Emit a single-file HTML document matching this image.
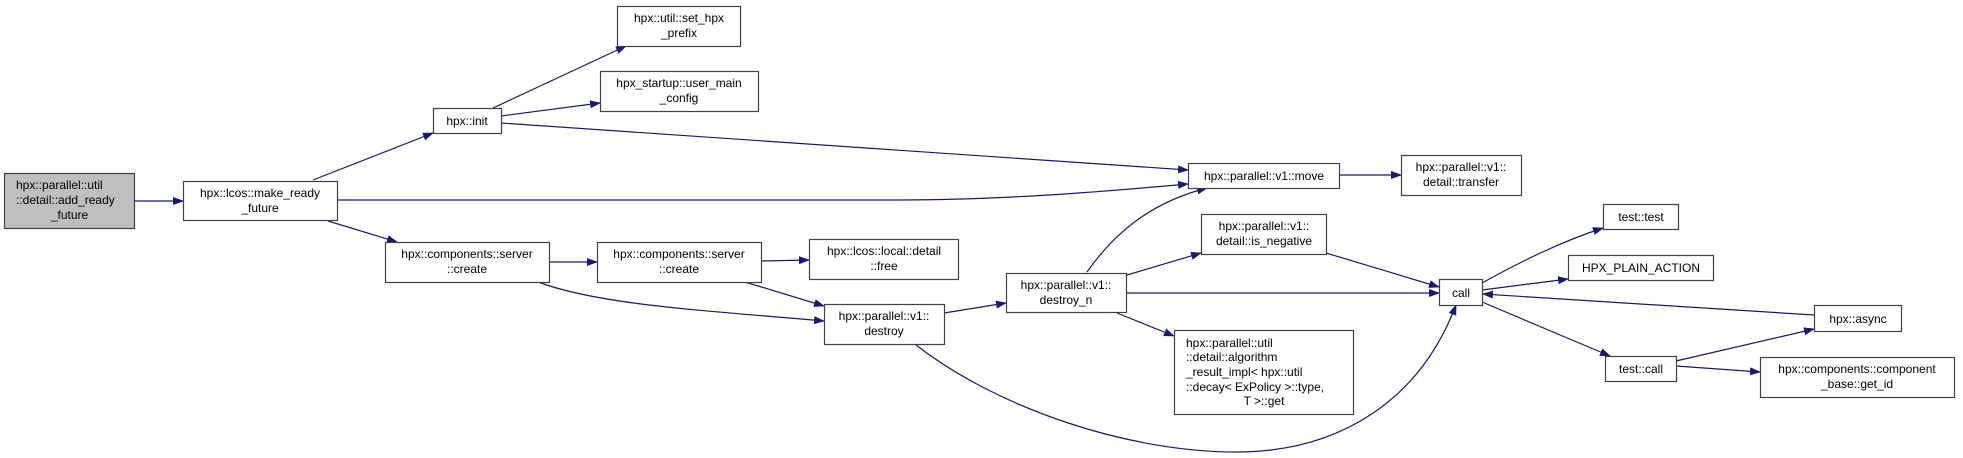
<!DOCTYPE html>
<html><head><meta charset="utf-8"><style>
html,body{margin:0;padding:0;background:#fff;}
svg{display:block;}
text{font-family:"Liberation Sans",sans-serif;font-size:12px;fill:#000;}
.b{fill:#fff;stroke:#404040;stroke-width:1.2;}
.e{fill:none;stroke:#191970;stroke-width:1.2;marker-end:url(#a);}
</style></head><body>
<svg width="1963" height="458" viewBox="0 0 1963 458" xmlns="http://www.w3.org/2000/svg">
<defs><marker id="a" markerWidth="11" markerHeight="8" refX="10" refY="4" orient="auto" markerUnits="userSpaceOnUse"><path d="M0,0 L11,4 L0,8 Z" fill="#191970"/></marker></defs>

<!-- edges -->
<path class="e" d="M135,201 L183,201"/>
<path class="e" d="M313,180 L433,133"/>
<path class="e" d="M328,221 L397,242"/>
<path class="e" d="M337,200 L900,200 C1000,200 1100,192 1188,184"/>
<path class="e" d="M493,108 L626,46"/>
<path class="e" d="M501,116 L600,103"/>
<path class="e" d="M501,123 L1188,170"/>
<path class="e" d="M1339,175 L1401,175"/>
<path class="e" d="M549,262 L597,262"/>
<path class="e" d="M538,282 C600,305 700,310 824,321"/>
<path class="e" d="M761,261 L809,260"/>
<path class="e" d="M745,282 L824,306"/>
<path class="e" d="M944,313 L1006,303"/>
<path class="e" d="M916,345 C1000,410 1130,452 1236,452 C1340,452 1420,400 1456,305"/>
<path class="e" d="M1087,272 C1120,225 1160,200 1207,188"/>
<path class="e" d="M1127,275 L1201,253"/>
<path class="e" d="M1126,293 L1439,293"/>
<path class="e" d="M1117,313 L1174,336"/>
<path class="e" d="M1326,253 L1439,287"/>
<path class="e" d="M1482,283 C1520,262 1560,242 1603,228"/>
<path class="e" d="M1482,290 L1568,279"/>
<path class="e" d="M1814,315 L1483,294"/>
<path class="e" d="M1482,302 L1610,356"/>
<path class="e" d="M1676,361 L1814,329"/>
<path class="e" d="M1676,366 L1760,372"/>

<!-- nodes -->
<rect x="4.5" y="173.5" width="130" height="55" fill="#bfbfbf" stroke="#404040" stroke-width="1.2"/>
<text x="16" y="189">hpx::parallel::util</text>
<text x="16" y="204">::detail::add_ready</text>
<text x="69.5" y="219" text-anchor="middle">_future</text>

<rect class="b" x="183.5" y="181.5" width="154" height="39"/>
<text x="260" y="197" text-anchor="middle">hpx::lcos::make_ready</text>
<text x="260" y="212" text-anchor="middle">_future</text>

<rect class="b" x="433.5" y="108.5" width="68" height="25"/>
<text x="467" y="125" text-anchor="middle">hpx::init</text>

<rect class="b" x="617.5" y="6.5" width="123" height="40"/>
<text x="679" y="22" text-anchor="middle">hpx::util::set_hpx</text>
<text x="679" y="37" text-anchor="middle">_prefix</text>

<rect class="b" x="600.5" y="71.5" width="158" height="40"/>
<text x="679" y="87" text-anchor="middle">hpx_startup::user_main</text>
<text x="679" y="102" text-anchor="middle">_config</text>

<rect class="b" x="385.5" y="242.5" width="164" height="40"/>
<text x="467" y="258" text-anchor="middle">hpx::components::server</text>
<text x="467" y="273" text-anchor="middle">::create</text>

<rect class="b" x="597.5" y="242.5" width="164" height="40"/>
<text x="679" y="258" text-anchor="middle">hpx::components::server</text>
<text x="679" y="273" text-anchor="middle">::create</text>

<rect class="b" x="809.5" y="239.5" width="149" height="40"/>
<text x="884" y="255" text-anchor="middle">hpx::lcos::local::detail</text>
<text x="884" y="270" text-anchor="middle">::free</text>

<rect class="b" x="824.5" y="304.5" width="120" height="40"/>
<text x="884" y="320" text-anchor="middle">hpx::parallel::v1::</text>
<text x="884" y="335" text-anchor="middle">destroy</text>

<rect class="b" x="1006.5" y="273.5" width="120" height="39"/>
<text x="1066" y="289" text-anchor="middle">hpx::parallel::v1::</text>
<text x="1066" y="304" text-anchor="middle">destroy_n</text>

<rect class="b" x="1188.5" y="163.5" width="151" height="25"/>
<text x="1264" y="180" text-anchor="middle">hpx::parallel::v1::move</text>

<rect class="b" x="1201.5" y="214.5" width="125" height="40"/>
<text x="1264" y="230" text-anchor="middle">hpx::parallel::v1::</text>
<text x="1264" y="245" text-anchor="middle">detail::is_negative</text>

<rect class="b" x="1174.5" y="330.5" width="179" height="84"/>
<text x="1186" y="347">hpx::parallel::util</text>
<text x="1186" y="361">::detail::algorithm</text>
<text x="1186" y="376">_result_impl&lt; hpx::util</text>
<text x="1186" y="391">::decay&lt; ExPolicy &gt;::type,</text>
<text x="1264" y="405" text-anchor="middle">T &gt;::get</text>

<rect class="b" x="1401.5" y="155.5" width="120" height="40"/>
<text x="1461" y="171" text-anchor="middle">hpx::parallel::v1::</text>
<text x="1461" y="186" text-anchor="middle">detail::transfer</text>

<rect class="b" x="1439.5" y="279.5" width="43" height="26"/>
<text x="1461" y="297" text-anchor="middle">call</text>

<rect class="b" x="1603.5" y="204.5" width="75" height="25"/>
<text x="1641" y="221" text-anchor="middle">test::test</text>

<rect class="b" x="1568.5" y="255.5" width="145" height="25"/>
<text x="1641" y="272" text-anchor="middle">HPX_PLAIN_ACTION</text>

<rect class="b" x="1814.5" y="305.5" width="87" height="26"/>
<text x="1858" y="323" text-anchor="middle">hpx::async</text>

<rect class="b" x="1605.5" y="356.5" width="71" height="25"/>
<text x="1641" y="373" text-anchor="middle">test::call</text>

<rect class="b" x="1760.5" y="357.5" width="194" height="40"/>
<text x="1857" y="373" text-anchor="middle">hpx::components::component</text>
<text x="1857" y="388" text-anchor="middle">_base::get_id</text>
</svg>
</body></html>
